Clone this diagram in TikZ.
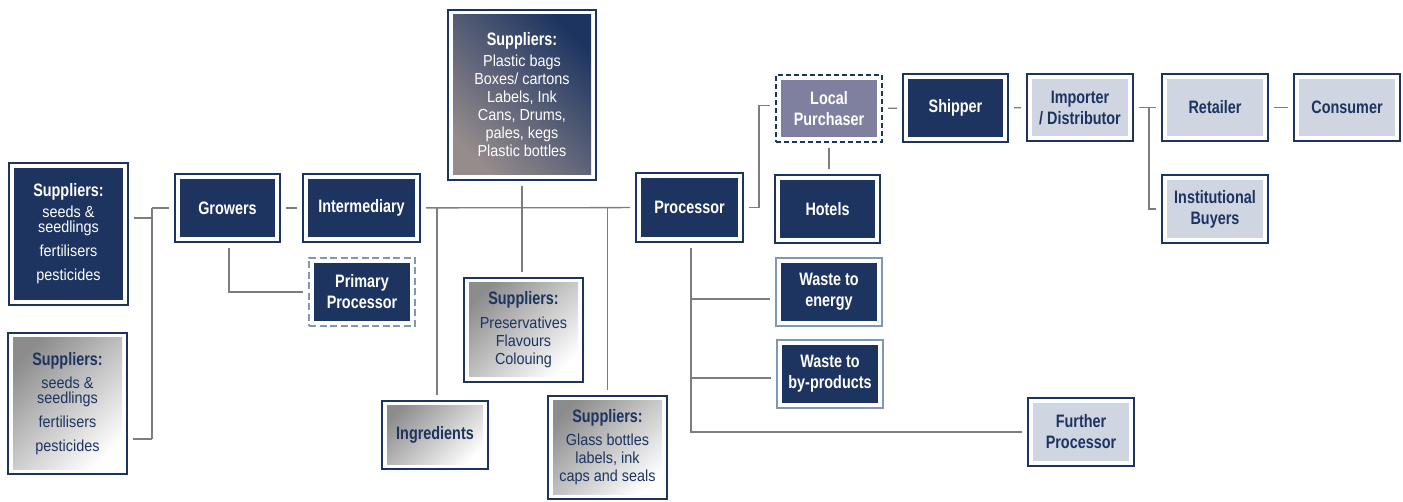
\documentclass[tikz,border=0pt]{standalone}
\usepackage{fontspec}
\setmainfont[FakeStretch=0.9]{Liberation Sans}
\newfontfamily\headfont[FakeStretch=0.8]{Liberation Sans Bold}
\usepackage{tikz}
\usetikzlibrary{positioning}
\definecolor{navy}{RGB}{29,52,97}
\definecolor{pale}{RGB}{207,213,225}
\definecolor{steel}{RGB}{128,151,182}
\definecolor{mauve}{RGB}{127,128,160}
\definecolor{wire}{RGB}{125,125,125}
\definecolor{dusk}{RGB}{150,140,140}
\newcommand*\hd[1]{{\headfont\fontsize{18}{21}\selectfont #1}}

\begin{document}
\begin{tikzpicture}[x=1pt,y=-1pt,
    frame/.style={shape=rectangle,draw=navy,line width=2pt,fill=white,inner sep=0pt,
                  minimum width=106pt,minimum height=68pt,align=center},
    inner/.style={path picture={\path[#1] ([shift={(5pt,5pt)}]path picture bounding box.south west)
                  rectangle ([shift={(-5pt,-5pt)}]path picture bounding box.north east);}},
    dark/.style={frame,inner={fill=navy},text=white,font=\headfont\fontsize{18}{21}\selectfont},
    light/.style={frame,inner={fill=pale},text=navy,font=\headfont\fontsize{18}{21}\selectfont},
    shaded/.style={frame,inner={top color=gray!90,bottom color=white,shading angle=45},text=navy,
                  font=\fontsize{16}{18}\selectfont},
    waste/.style={dark,draw=steel,line width=2.4pt},
    dashbox/.style={dash pattern=on 5pt off 3pt},
    link/.style={draw=wire,line width=1.3pt},
    gap/.style={shorten <=5pt,shorten >=5pt}]
  \useasboundingbox (0,0) rectangle (1403,502);

  \node (sup1) [dark,minimum width=119pt,minimum height=142pt,font=\fontsize{16}{18}\selectfont] at (68.5,234)
    {\hd{Suppliers:}\\[3pt] seeds \&\\[-3pt] seedlings\\[6pt] fertilisers\\[6pt] pesticides};
  \node (sup2) [shaded,minimum width=119pt,minimum height=141pt] at (67.5,403.5)
    {\hd{Suppliers:}\\[5pt] seeds \&\\[-3pt] seedlings\\[6pt] fertilisers\\[6pt] pesticides};
  \node (growers) [dark,minimum width=105pt] at (227.5,208) {Growers};
  \node (inter) [dark,minimum width=117pt] at (361.5,208) {Intermediary};
  \node (prim) [dark,draw=steel,dashbox,dash pattern=on 7pt off 3.5pt] at (362,292) {Primary\\Processor};
  \node (supTop) [dark,minimum width=148pt,minimum height=170pt,font=\fontsize{16}{18}\selectfont,
    inner={top color=navy,middle color=navy!88!gray,bottom color=dusk,shading angle=-45}] at (522,95)
    {\hd{Suppliers:}\\[3pt] Plastic bags\\ Boxes/ cartons\\ Labels, Ink\\ Cans, Drums,\\ pales, kegs\\ Plastic bottles};
  \node (supPres) [shaded,minimum width=119pt,minimum height=104pt] at (523.5,330)
    {\hd{Suppliers:}\\[6pt] Preservatives\\ Flavours\\ Colouing};
  \node (ingr) [shaded,font=\headfont\fontsize{18}{21}\selectfont] at (435,435) {Ingredients};
  \node (supGlass) [shaded,minimum width=119pt,minimum height=103pt] at (607.5,447.5)
    {\hd{Suppliers:}\\[5pt] Glass bottles\\ labels, ink\\ caps and seals};
  \node (proc) [dark,minimum width=107pt,minimum height=69pt] at (689.5,207.5) {Processor};
  \node (local) [dark,dashbox,inner={fill=mauve},minimum height=67pt] at (829,108.5) {Local\\Purchaser};
  \node (hotels) [dark,minimum width=105pt] at (827.5,209) {Hotels};
  \node (wEnergy) [waste] at (829,292) {Waste to\\energy};
  \node (wByp) [waste] at (830,374) {Waste to\\by-products};
  \node (further) [light] at (1081,432) {Further\\Processor};
  \node (shipper) [dark,minimum width=105pt] at (955.5,108) {Shipper};
  \node (importer) [light,minimum height=67pt] at (1080,107.5) {Importer\\/ Distributor};
  \node (retailer) [light,minimum height=67pt] at (1215,107.5) {Retailer};
  \node (consumer) [light,minimum height=67pt] at (1347,107.5) {Consumer};
  \node (instit) [light] at (1215,209) {Institutional\\Buyers};

  \coordinate (jtop) at (152,208);
  \coordinate (jbot) at (152,439);
  \coordinate (jr) at (1149,107.5);
  \draw[link] (jtop) -- (jbot);
  \draw[link,shorten <=5pt] (sup1.east |- 0,218) -- (jtop |- 0,218);
  \draw[link,shorten <=5pt] (sup2.east |- jbot) -- (jbot);
  \draw[link,shorten >=5pt] (jtop) -- (growers.west);
  \path[link,gap] (growers) edge (inter)
                  (inter) edge (proc)
                  (local) edge (shipper)
                  (shipper) edge (importer)
                  (retailer) edge (consumer);
  \draw[link,gap] (growers.south -| 229,0) |- (prim.west);
  \draw[link,shorten >=5pt] (inter.east -| 437,0) -- (ingr.north -| 437,0);
  \draw[link,gap] (supTop) -- (supTop |- supPres.north);
  \draw[link,shorten >=5pt] (supGlass.north |- inter.east) -- (supGlass.north);
  \draw[link,gap] (proc.east) -- (proc.east -| 759,0) |- ([yshift=3pt]local.west);
  \draw[link,gap] (local.south) -- (local.south |- hotels.north);
  \draw[link,gap] (proc.south -| 691,0) |- (further.west);
  \draw[link,shorten >=5pt] (691,299) -- (wEnergy.west |- 0,299);
  \draw[link,shorten >=5pt] (691,378) -- (wByp.west |- 0,378);
  \draw[link,shorten <=5pt] (importer.east) -- (jr);
  \draw[link,shorten >=5pt] (jr) -- (retailer.west);
  \draw[link,shorten >=5pt] (jr) |- (instit.west);
\end{tikzpicture}
\end{document}
